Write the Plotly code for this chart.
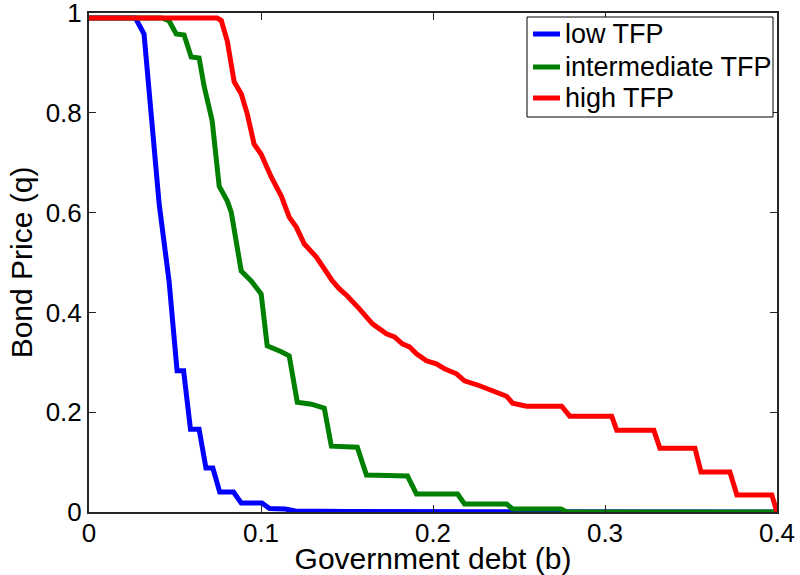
import plotly.graph_objects as go

# Government debt (b) and bond price (q) for three TFP states
b_low = [0, 0.027, 0.032, 0.036, 0.0408, 0.0466, 0.0495, 0.0512, 0.055, 0.059, 0.064,
         0.068, 0.072, 0.076, 0.084, 0.0885, 0.1005, 0.105, 0.114, 0.12, 0.15, 0.4]
q_low = [0.99, 0.99, 0.958, 0.798, 0.617, 0.461, 0.361, 0.283, 0.283, 0.166, 0.166,
         0.088, 0.088, 0.04, 0.04, 0.018, 0.018, 0.007, 0.006, 0.002, 0.001, 0.0]

b_mid = [0, 0.0425, 0.0466, 0.0507, 0.0553, 0.0594, 0.064, 0.067, 0.0716, 0.0757, 0.0804,
         0.0827, 0.0885, 0.0943, 0.1001, 0.1036, 0.1118, 0.1164, 0.1211, 0.1293, 0.1368,
         0.1409, 0.156, 0.1613, 0.1852, 0.1904, 0.2143, 0.2183, 0.2428, 0.2463, 0.2745,
         0.2777, 0.4]
q_mid = [0.99, 0.99, 0.984, 0.958, 0.956, 0.912, 0.91, 0.852, 0.784, 0.653, 0.623,
         0.601, 0.483, 0.463, 0.437, 0.333, 0.321, 0.313, 0.220, 0.216, 0.208,
         0.132, 0.130, 0.074, 0.072, 0.036, 0.036, 0.016, 0.016, 0.006, 0.006,
         0.0, 0.0]

b_high = [0, 0.0745, 0.0769, 0.0804, 0.0844, 0.0885, 0.092, 0.096, 0.1001, 0.106, 0.1118,
          0.1164, 0.1205, 0.1252, 0.1322, 0.138, 0.1415, 0.1456, 0.1502, 0.1572, 0.1648,
          0.1729, 0.1776, 0.1822, 0.1863, 0.1904, 0.1962, 0.202, 0.2067, 0.2137, 0.2183,
          0.2271, 0.2346, 0.2428, 0.2463, 0.2544, 0.2748, 0.2795, 0.3039, 0.3068, 0.3284,
          0.3319, 0.3523, 0.3558, 0.3726, 0.3767, 0.397, 0.4]
q_high = [0.99, 0.99, 0.985, 0.944, 0.862, 0.838, 0.798, 0.737, 0.717, 0.671, 0.633,
          0.591, 0.571, 0.537, 0.511, 0.481, 0.463, 0.447, 0.433, 0.407, 0.377,
          0.357, 0.351, 0.337, 0.331, 0.317, 0.303, 0.297, 0.287, 0.277, 0.263,
          0.253, 0.243, 0.232, 0.218, 0.212, 0.212, 0.192, 0.192, 0.164, 0.164,
          0.128, 0.128, 0.080, 0.080, 0.034, 0.034, 0.0]

names = ["low TFP", "intermediate TFP", "high TFP"]
colors = ["#0000FF", "#008000", "#FF0000"]

x_ticks = [0, 0.1, 0.2, 0.3, 0.4]
x_ticklabels = ["0", "0.1", "0.2", "0.3", "0.4"]
y_ticks = [0, 0.2, 0.4, 0.6, 0.8, 1.0]
y_ticklabels = ["0", "0.2", "0.4", "0.6", "0.8", "1"]

FONT = "Liberation Sans, Arial, Helvetica, sans-serif"

W, H = 800, 575
ML, MR, MT, MB = 89, 23, 13, 63
PW, PH = W - ML - MR, H - MT - MB


def px_x(p):
    return (p - ML) / PW


def px_y(p):
    return (H - MB - p) / PH


fig = go.Figure()
for bx, qy, nm, c in zip([b_low, b_mid, b_high], [q_low, q_mid, q_high], names, colors):
    fig.add_trace(go.Scatter(x=bx, y=qy, mode="lines", name=nm,
                             line=dict(color=c, width=5), cliponaxis=False,
                             showlegend=False))

axis_common = dict(showgrid=False, zeroline=False, showline=True, linecolor="#262626",
                   linewidth=2, mirror="ticks", ticks="inside", ticklen=7,
                   tickcolor="#262626", tickwidth=1, automargin=False,
                   ticklabeloverflow="allow",
                   tickfont=dict(family=FONT, size=26, color="black"))

# Legend box (drawn like the MATLAB legend)
shapes = [dict(type="rect", xref="paper", yref="paper",
               x0=px_x(527), x1=px_x(773), y0=px_y(117), y1=px_y(17),
               line=dict(color="black", width=1), fillcolor="white", layer="above")]
annotations = []
row_y = [34, 67, 98]
for nm, c, ry in zip(names, colors, row_y):
    shapes.append(dict(type="line", xref="paper", yref="paper",
                       x0=px_x(533), x1=px_x(560), y0=px_y(ry), y1=px_y(ry),
                       line=dict(color=c, width=5), layer="above"))
    annotations.append(dict(xref="paper", yref="paper", x=px_x(563), y=px_y(ry),
                            xanchor="left", yanchor="middle", text=nm, showarrow=False,
                            font=dict(family=FONT, size=27, color="black")))

fig.update_layout(
    width=W, height=H,
    margin=dict(l=ML, r=MR, t=MT, b=MB),
    paper_bgcolor="white", plot_bgcolor="white",
    font=dict(family=FONT, color="black"),
    xaxis=dict(range=[0, 0.4], tickvals=x_ticks, ticktext=x_ticklabels,
               ticklabelstandoff=-3,
               title=dict(text="Government debt (b)", font=dict(family=FONT, size=30), standoff=11),
               **axis_common),
    yaxis=dict(range=[0, 1], tickvals=y_ticks, ticktext=y_ticklabels,
               title=dict(text="Bond Price (q)", font=dict(family=FONT, size=30), standoff=4),
               **axis_common),
    shapes=shapes,
    annotations=annotations,
    showlegend=False,
)

fig.write_html("out.html")
